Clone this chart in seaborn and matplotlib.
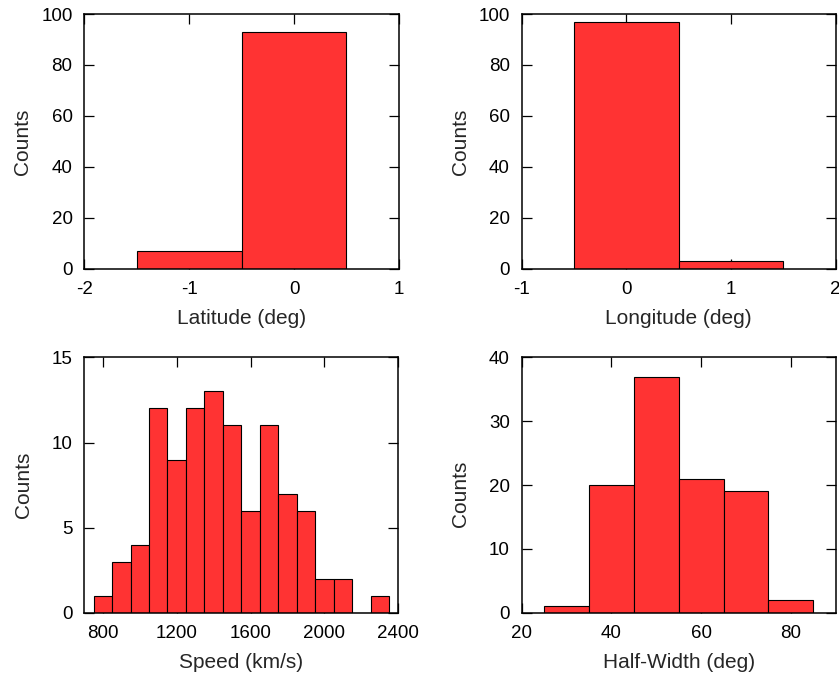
import matplotlib
matplotlib.use("Agg")
import matplotlib.pyplot as plt
import seaborn as sns

# Дані гістограм (центри бінів і кількість подій)
lat_centers = [-1, 0]
lat_counts = [7, 93]

lon_centers = [0, 1]
lon_counts = [97, 3]

speed_centers = [800, 900, 1000, 1100, 1200, 1300, 1400, 1500,
                 1600, 1700, 1800, 1900, 2000, 2100, 2200, 2300]
speed_counts = [1, 3, 4, 12, 9, 12, 13, 11, 6, 11, 7, 6, 2, 2, 0, 1]

hw_centers = [30, 40, 50, 60, 70, 80]
hw_counts = [1, 20, 37, 21, 19, 2]

sns.set_theme(style="ticks")
plt.rcParams['font.family'] = ['Liberation Sans', 'DejaVu Sans']
plt.rcParams['axes.unicode_minus'] = False

fig = plt.figure(figsize=(8.39, 6.75), dpi=100)
boxes = [
    [0.1005, 0.6019, 0.3749, 0.3773],
    [0.6218, 0.6019, 0.3743, 0.3773],
    [0.1005, 0.0923, 0.3743, 0.3782],
    [0.6218, 0.0923, 0.3743, 0.3782],
]
axes = [fig.add_axes(b) for b in boxes]

panels = [
    (lat_centers, lat_counts, 1, (-1.5, 0.5), (-2, 1), [-2, -1, 0, 1], (0, 100), 20, 'Latitude (deg)', 0.5),
    (lon_centers, lon_counts, 1, (-0.5, 1.5), (-1, 2), [-1, 0, 1, 2], (0, 100), 20, 'Longitude (deg)', 0.5),
    (speed_centers, speed_counts, 100, (750, 2350), (700, 2400), [800, 1200, 1600, 2000, 2400], (0, 15), 5, 'Speed (km/s)', 0.5),
    (hw_centers, hw_counts, 10, (25, 85), (20, 90), [20, 40, 60, 80], (0, 40), 10, 'Half-Width (deg)', 0.465),
]

for ax, (cent, cnt, bw, br, xl, xt, yl, ystep, xlabel, ylab_y) in zip(axes, panels):
    sns.histplot(x=cent, weights=cnt, binwidth=bw, binrange=br, ax=ax,
                 color='#ff3333', alpha=1, edgecolor='black', linewidth=0.8)
    ax.set_xlim(*xl)
    ax.set_ylim(*yl)
    ax.set_xticks(xt)
    ax.set_yticks(range(yl[0], yl[1] + 1, ystep))
    ax.set_axisbelow(True)
    ax.tick_params(direction='in', top=True, right=True, length=7,
                   width=0.9, labelsize=13.5, pad=8.5, colors='black')
    for sp in ax.spines.values():
        sp.set_visible(True)
        sp.set_linewidth(1.1)
        sp.set_color('black')
    ax.set_xlabel(xlabel, fontsize=15, labelpad=8)
    ax.set_ylabel('Counts', fontsize=15)
    ax.yaxis.set_label_coords(-0.165, ylab_y)

plt.savefig('out.png', dpi=100)
